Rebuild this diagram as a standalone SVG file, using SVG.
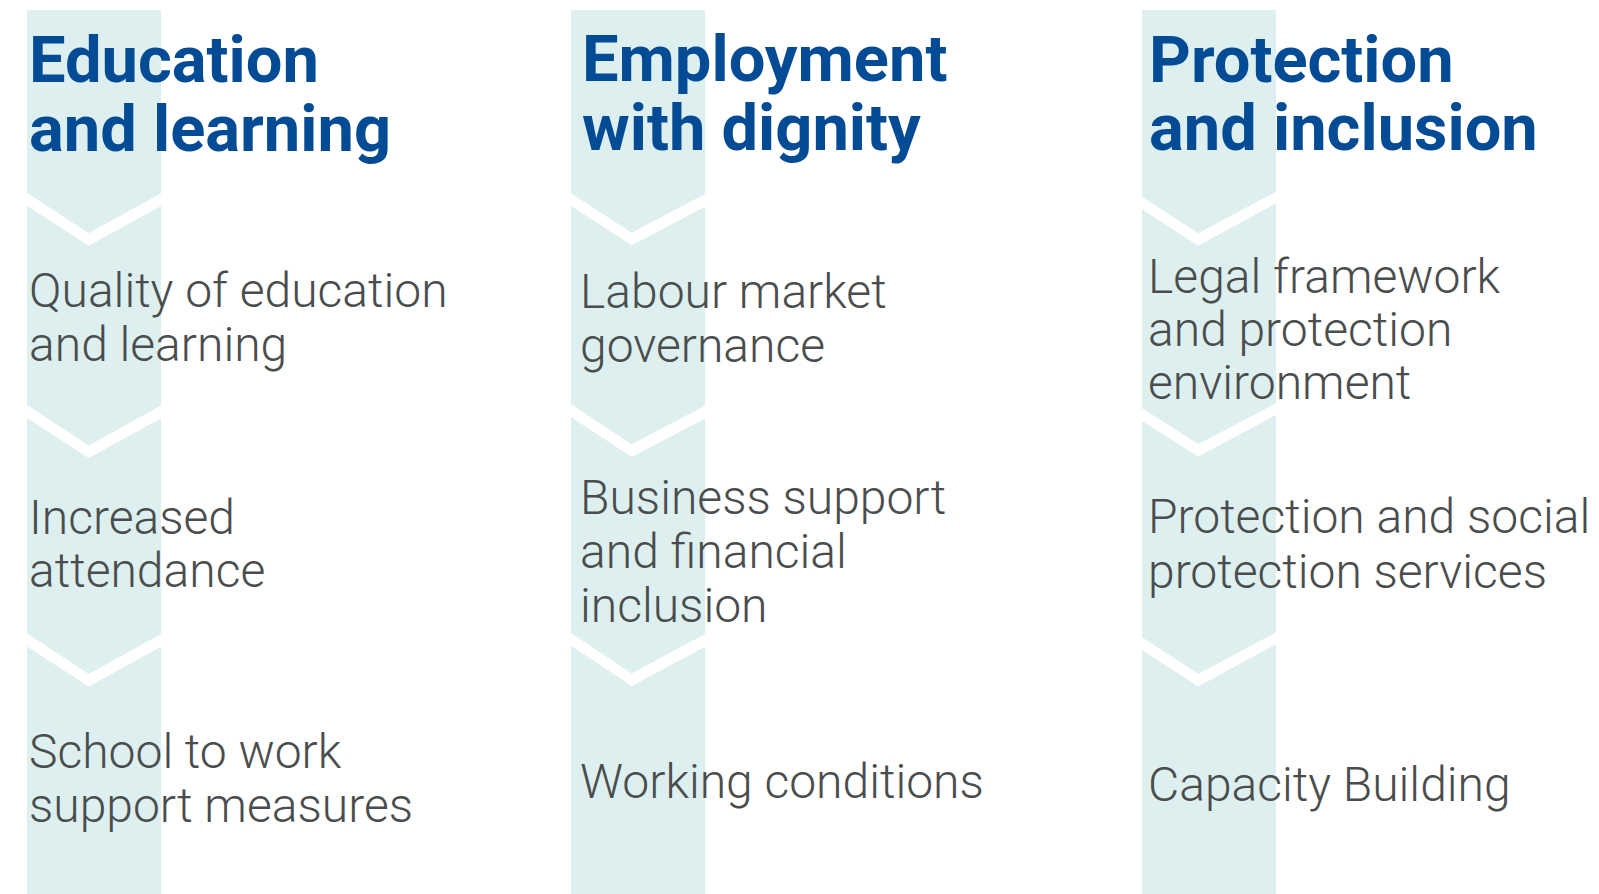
<svg xmlns="http://www.w3.org/2000/svg" width="1599" height="894" viewBox="0 0 1599 894">
<style>
.band{fill:#ddf0ef}
.chev{fill:#ffffff}
.title{font-family:Roboto,"Liberation Sans",sans-serif;font-weight:700;font-size:65px;fill:#034b94}
.item{font-family:Roboto,"Liberation Sans",sans-serif;font-weight:300;font-size:48px;fill:#4a4d4d}
</style>
<rect width="1599" height="894" fill="#ffffff"/>
<g id="bands">
<rect class="band" x="27" y="10" width="134" height="884"/>
<rect class="band" x="571" y="10" width="134" height="884"/>
<rect class="band" x="1142" y="10" width="134" height="884"/>
</g>
<g id="connectors">
<polygon class="chev" points="27,192.7 88.7,233.3 161,193.3 161,206 88.7,245.7 27,205.7"/>
<polygon class="chev" points="27,405 88.7,445.6 161,405.6 161,418.3 88.7,458 27,418"/>
<polygon class="chev" points="27,633.3 88.7,674 161,634 161,646.7 88.7,686.4 27,646.4"/>
<polygon class="chev" points="571,193.3 631.7,232.7 705,194 705,206.7 631.7,245.3 571,206"/>
<polygon class="chev" points="571,404.3 631.7,444.3 705,405.7 705,418.4 631.7,457 571,417"/>
<polygon class="chev" points="571,633 631.7,673.4 705,634 705,646.7 631.7,686 571,645.7"/>
<polygon class="chev" points="1142,196.7 1198.3,233.3 1276,191.7 1276,203.3 1198.3,245.7 1142,209.3"/>
<polygon class="chev" points="1142,408.3 1198.3,444 1276,403.3 1276,415 1198.3,456.4 1142,421"/>
<polygon class="chev" points="1142,637.3 1198.3,674 1276,632.3 1276,644 1198.3,686.4 1142,650"/>
</g>
<g id="col-education">
<text class="title"><tspan x="29" y="81.7">Education</tspan><tspan x="29" y="151">and learning</tspan></text>
</g>
<g id="node-quality">
<text class="item"><tspan x="29" y="306.7">Quality of education</tspan><tspan x="29" y="361">and learning</tspan></text>
</g>
<g id="node-attendance">
<text class="item"><tspan x="29" y="534">Increased</tspan><tspan x="29" y="587.3">attendance</tspan></text>
</g>
<g id="node-school">
<text class="item"><tspan x="29" y="768.3">School to work</tspan><tspan x="29" y="821.7">support measures</tspan></text>
</g>
<g id="col-employment">
<text class="title"><tspan x="582" y="81">Employment</tspan><tspan x="582" y="150">with dignity</tspan></text>
</g>
<g id="node-labour">
<text class="item"><tspan x="580" y="308.3">Labour market</tspan><tspan x="580" y="361.7">governance</tspan></text>
</g>
<g id="node-business">
<text class="item"><tspan x="580" y="514.3">Business support</tspan><tspan x="580" y="568.3">and financial</tspan><tspan x="580" y="622.3">inclusion</tspan></text>
</g>
<g id="node-working">
<text class="item" x="580" y="798.3">Working conditions</text>
</g>
<g id="col-protection">
<text class="title"><tspan x="1149" y="81.7">Protection</tspan><tspan x="1149" y="150">and inclusion</tspan></text>
</g>
<g id="node-legal">
<text class="item"><tspan x="1148" y="293.3">Legal framework</tspan><tspan x="1148" y="346">and protection</tspan><tspan x="1148" y="399.3">environment</tspan></text>
</g>
<g id="node-social">
<text class="item"><tspan x="1148" y="533.3">Protection and social</tspan><tspan x="1148" y="588.3">protection services</tspan></text>
</g>
<g id="node-capacity">
<text class="item" x="1148" y="801">Capacity Building</text>
</g>
</svg>
